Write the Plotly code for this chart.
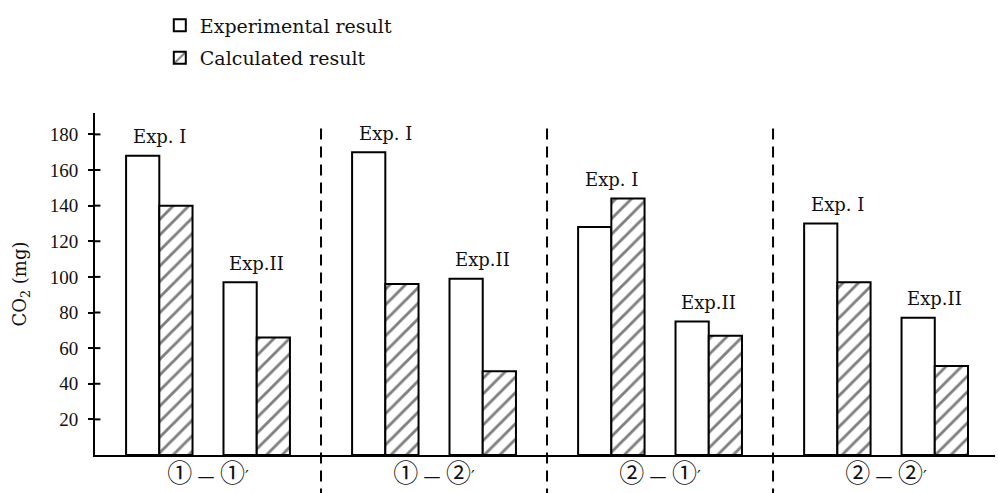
import plotly.graph_objects as go

# Combinations of conditions along the x axis
groups = ["①—①′", "①—②′", "②—①′", "②—②′"]

# CO2 (mg) per combination
exp1_measured = [168, 170, 128, 130]
exp1_calculated = [140, 96, 144, 97]
exp2_measured = [97, 99, 75, 77]
exp2_calculated = [66, 47, 67, 50]

run_labels = ["Exp. I", "Exp.II"]
y_ticks = [20, 40, 60, 80, 100, 120, 140, 160, 180]

# Geometry (in group units, one group per unit)
X_RANGE = [0, 3.982]
Y_RANGE = [0, 192]
BAR_W = 0.147
PAIR_OFF = [-0.2155, 0.2155]   # centre of the Exp. I / Exp. II pair within a group
HALF = BAR_W / 2
INNER_TICK = 0.024             # length of the tick part inside the plot

centers = [i + 0.5 for i in range(len(groups))]

x_meas, y_meas, x_calc, y_calc = [], [], [], []
for run, (meas, calc) in enumerate([(exp1_measured, exp1_calculated),
                                    (exp2_measured, exp2_calculated)]):
    for c, m, k in zip(centers, meas, calc):
        pc = c + PAIR_OFF[run]
        x_meas.append(pc - HALF)
        y_meas.append(m)
        x_calc.append(pc + HALF)
        y_calc.append(k)

SERIF = "DejaVu Serif, Liberation Serif, serif"


def circled_label(txt):
    """Enlarge the circled numerals relative to the dash and prime."""
    out = []
    for ch in txt:
        if ch in "①②":
            out.append(f'<span style="font-size:25px">{ch}</span>')
        elif ch == "—":
            out.append(" — ")
        else:
            out.append(ch)
    return "".join(out)


fig = go.Figure()
fig.add_trace(go.Bar(
    x=x_meas, y=y_meas, width=BAR_W, name="Experimental result",
    legendgroup="a",
    marker=dict(color="white", line=dict(color="black", width=2)),
))
fig.add_trace(go.Bar(
    x=x_calc, y=y_calc, width=BAR_W, name="Calculated result",
    legendgroup="b",
    marker=dict(color="white", line=dict(color="black", width=2),
                pattern=dict(shape="/", fgcolor="black", bgcolor="white",
                             size=11, solidity=0.26)),
))

# inner half of the tick marks crossing the y axis
for t in y_ticks:
    fig.add_shape(type="line", xref="x", yref="y",
                  x0=X_RANGE[0], x1=X_RANGE[0] + INNER_TICK, y0=t, y1=t,
                  line=dict(color="black", width=2))

# Exp. I / Exp. II labels above each pair
for run, (meas, calc) in enumerate([(exp1_measured, exp1_calculated),
                                    (exp2_measured, exp2_calculated)]):
    for c, m, k in zip(centers, meas, calc):
        fig.add_annotation(
            x=c + PAIR_OFF[run], y=max(m, k), text=run_labels[run],
            showarrow=False, yanchor="middle", yshift=19,
            font=dict(family=SERIF, size=18, color="#111"),
        )

# dashed separators between the groups, running below the axis
span = X_RANGE[1] - X_RANGE[0]
for b in range(1, len(groups)):
    xp = (b - X_RANGE[0]) / span
    fig.add_shape(type="line", xref="paper", yref="paper",
                  x0=xp, x1=xp, y0=0.955, y1=-0.12,
                  line=dict(color="black", width=2, dash="11px,7px"))

fig.update_layout(
    width=998, height=493,
    margin=dict(l=95, r=3, t=113, b=38),
    paper_bgcolor="white", plot_bgcolor="white",
    barmode="overlay",
    showlegend=True,
    legend=dict(x=0.072, y=1.312, xanchor="left", yanchor="top",
                font=dict(family=SERIF, size=19, color="#111"),
                bgcolor="rgba(0,0,0,0)", tracegroupgap=5),
    xaxis=dict(range=X_RANGE, showline=True, linecolor="black", linewidth=2,
               showgrid=False, zeroline=False, ticks="",
               tickvals=centers, ticktext=[circled_label(g) for g in groups],
               ticklabelstandoff=5,
               tickfont=dict(family="DejaVu Serif, Noto Sans CJK JP", size=17,
                             color="#111")),
    yaxis=dict(range=Y_RANGE, showline=True, linecolor="black", linewidth=2,
               showgrid=False, zeroline=False, ticks="outside", ticklen=5,
               tickwidth=2, tickcolor="black",
               tickvals=y_ticks, ticklabelstandoff=6,
               tickfont=dict(family="Liberation Serif, serif", size=19,
                             color="#111"),
               title=dict(text="CO<sub>2</sub> (mg)", standoff=18,
                          font=dict(family=SERIF, size=18, color="#111"))),
)

fig.write_html("out.html")
